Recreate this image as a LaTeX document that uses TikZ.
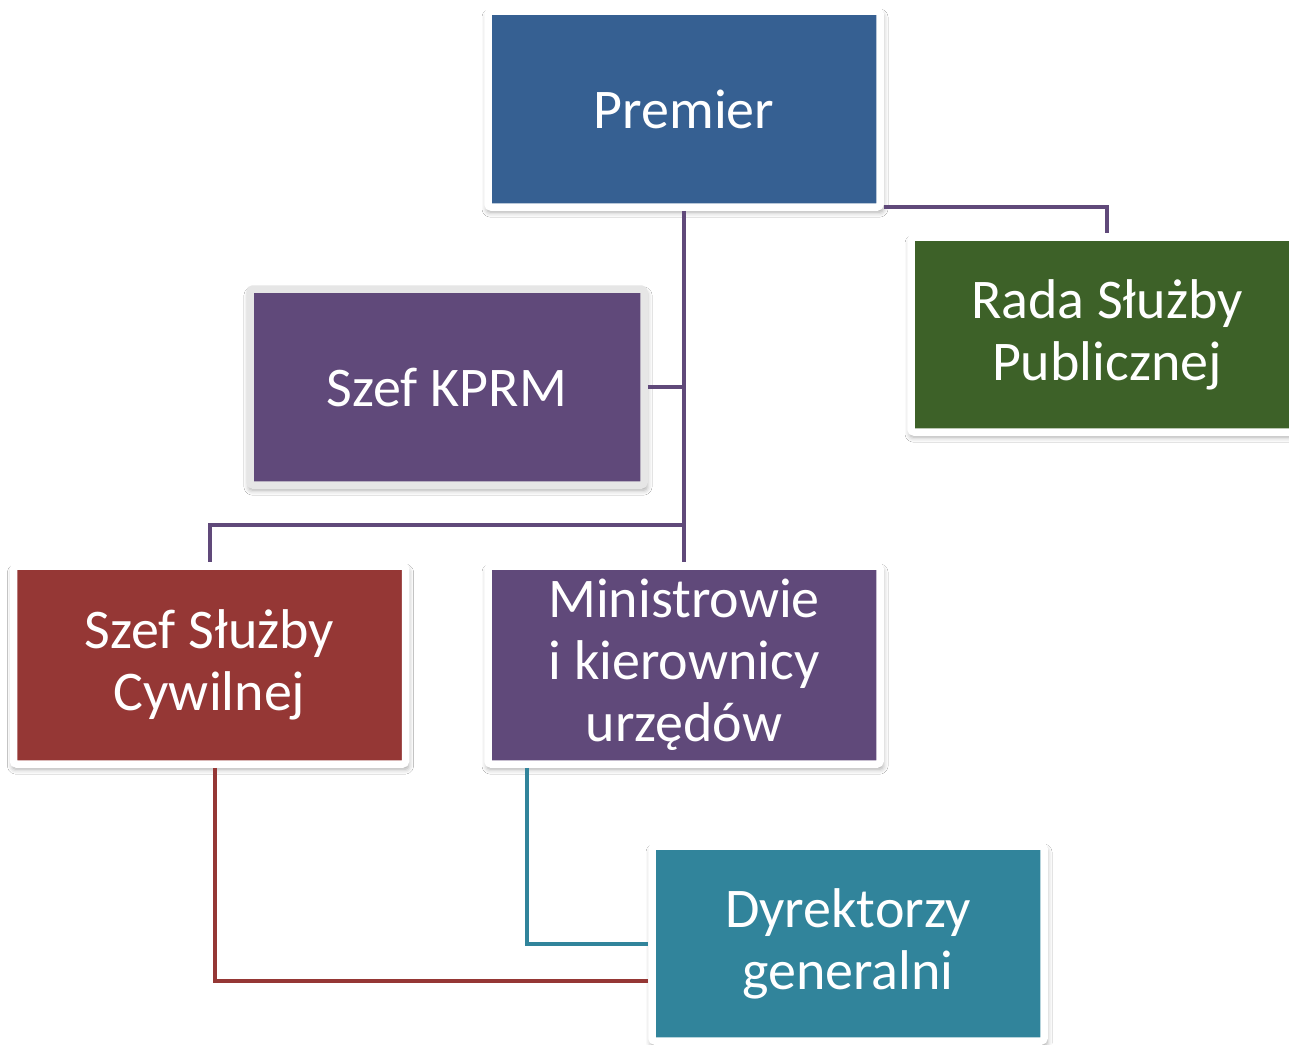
\documentclass[tikz,border=0pt]{standalone}
\usepackage{fontspec}
\setmainfont{Carlito}
\usetikzlibrary{shadows,shadows.blur}
\definecolor{cblue}{HTML}{366092}
\definecolor{cgreen}{HTML}{3D6128}
\definecolor{cpurple}{HTML}{60497A}
\definecolor{cred}{HTML}{953735}
\definecolor{cteal}{HTML}{31849B}
\definecolor{cframe}{HTML}{E6E6E6}
\tikzset{
  orgbox/.style={draw=white, line width=7.5pt, rounded corners=3pt, text=white,
    align=center, minimum width=392pt, minimum height=196pt, inner sep=0pt,
    font=\fontsize{56}{62}\selectfont,
    blur shadow={shadow xshift=1pt, shadow yshift=-4pt, shadow blur radius=5pt,
      shadow opacity=35, shadow scale=1.01}},
  conn/.style={line width=4pt, draw=cpurple},
}
\begin{document}
\begin{tikzpicture}[x=1pt,y=-1pt]
\useasboundingbox (0,0) rectangle (1289,1044);
\clip (0,0) rectangle (1289,1044);
\fill[white] (0,0) rectangle (1289,1044);

\node[orgbox, fill=cblue] (premier) at (684,109) {Premier};
\node[orgbox, fill=cgreen, minimum height=195pt] (rada) at (1107,334.5) {Rada Służby\\Publicznej};
\node[orgbox, fill=cpurple, draw=cframe, minimum width=394pt] (kprm) at (447,387) {Szef KPRM};
\node[orgbox, fill=cred, minimum height=198pt] (szef) at (209.5,665) {Szef Służby\\Cywilnej};
\node[orgbox, fill=cpurple, minimum height=198pt] (min) at (684,665) {Ministrowie\\i kierownicy\\urzędów};
\node[orgbox, fill=cteal, minimum height=195pt] (dyr) at (848,943.5) {Dyrektorzy\\generalni};

\coordinate (ry) at (0,207);
\coordinate (hb) at (684,525);
\coordinate (tx) at (527,0);
\coordinate (rx) at (215,981);

\draw[conn] (premier.south) -- (min.north);
\draw[conn] (premier.east |- ry) -| (rada.north);
\draw[conn] (kprm.east) -- (kprm.east -| premier.south);
\draw[conn] (hb) -| (szef.north);
\draw[conn, draw=cteal] (min.south -| tx) |- (dyr.west);
\draw[conn, draw=cred] (szef.south -| rx) |- (dyr.west |- rx);
\end{tikzpicture}
\end{document}
